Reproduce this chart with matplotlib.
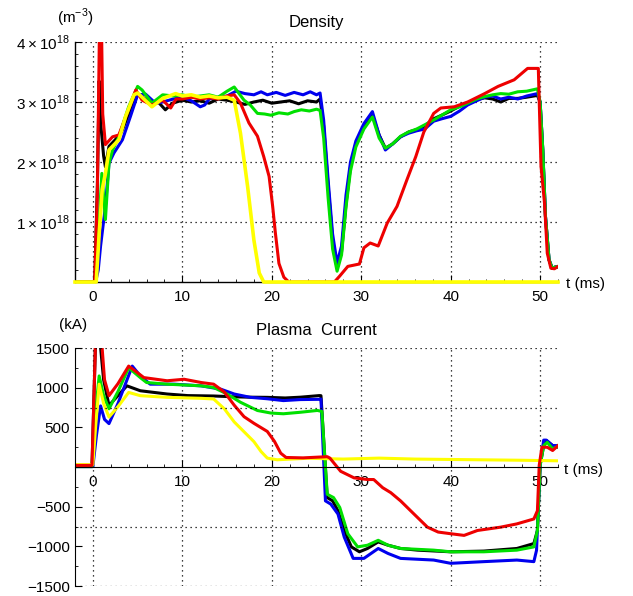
import numpy as np
import matplotlib
matplotlib.use("Agg")
import matplotlib.pyplot as plt
from matplotlib.ticker import MultipleLocator, FixedLocator

plt.rcParams['font.family'] = ['Liberation Sans', 'DejaVu Sans']
plt.rcParams['mathtext.fontset'] = 'custom'
plt.rcParams['mathtext.rm'] = 'Liberation Sans'

# ---------------- Density (1e18 m^-3) ----------------
den_black_t = [-2, 0.2, 0.5, 0.7, 0.9, 1.2, 1.4, 1.8, 2.5, 3.2, 4.2, 5.0, 5.6, 6.6, 7.3, 8.1, 8.9, 10, 11, 12, 13, 14, 15, 16, 17, 18, 19, 20, 21, 22, 23, 24, 25, 25.4,
               25.8, 26.3, 26.8, 27.3, 27.8, 28.3, 28.8, 29.4, 30.3, 31.25, 32.0, 32.7, 33.5, 34.4, 35.3, 36.2, 37.1, 38.1, 39.0, 40.0, 41.0, 41.9, 42.9, 43.8, 44.7, 45.6, 46.5, 47.5, 48.5, 49.7,
               50.0, 50.3, 50.6, 51.0, 51.35, 51.7, 52]
den_black = [0, 0, 1.6, 3.35, 2.6, 2.1, 1.92, 2.26, 2.37, 2.5, 2.87, 3.12, 3.08, 2.95, 3.0, 2.87, 2.98, 3.03, 3.0, 3.02, 2.98, 3.05, 3.03, 3.0, 2.96, 3.0, 3.03, 2.98, 3.0, 3.02, 2.97, 3.02, 3.0, 3.05,
             2.6, 1.6, 0.7, 0.23, 0.5, 1.3, 1.92, 2.3, 2.59, 2.78, 2.45, 2.23, 2.3, 2.42, 2.5, 2.54, 2.6, 2.72, 2.78, 2.85, 2.93, 2.98, 3.04, 3.07, 3.05, 3.0, 3.06, 3.06, 3.08, 3.11,
             3.0, 2.2, 1.09, 0.37, 0.23, 0.25, 0.25]

den_blue_t = [-2, 0.3, 0.6, 0.86, 1.4, 1.8, 2.35, 3.3, 4.2, 5.0, 5.9, 7.0, 7.8, 9, 10, 11, 12, 12.5, 13, 14, 15, 16, 17, 18, 18.8, 19.5, 20.5, 21.5, 22.5, 23.5, 24.3, 25.0, 25.4,
              25.8, 26.3, 26.8, 27.3, 27.8, 28.3, 28.8, 29.4, 30.3, 31.25, 32.0, 32.7, 33.5, 34.4, 35.3, 36.2, 37.1, 38.1, 39.0, 40.0, 41.0, 41.9, 42.9, 43.8, 44.7, 45.6, 46.5, 47.5, 48.5, 49.7,
              50.0, 50.3, 50.6, 51.0, 51.35, 51.7, 52]
den_blue = [0, 0, 0.2, 0.6, 1.26, 1.98, 2.15, 2.37, 2.76, 3.12, 3.13, 2.98, 3.0, 3.05, 3.08, 3.02, 2.92, 2.95, 3.05, 3.08, 3.1, 3.18, 3.14, 3.12, 3.17, 3.12, 3.16, 3.11, 3.16, 3.12, 3.17, 3.12, 3.15,
            2.7, 1.7, 0.8, 0.32, 0.6, 1.45, 2.0, 2.35, 2.64, 2.84, 2.45, 2.2, 2.3, 2.42, 2.48, 2.52, 2.55, 2.68, 2.72, 2.76, 2.85, 2.95, 3.02, 3.08, 3.1, 3.05, 3.08, 3.05, 3.1, 3.14,
            3.0, 2.2, 1.09, 0.37, 0.23, 0.25, 0.25]

den_green_t = [-2, 0.3, 0.67, 1.0, 1.4, 1.8, 2.2, 2.9, 4.0, 5.0, 5.5, 6.6, 7.8, 9, 10, 11, 12, 13, 14, 15, 15.8, 16.9, 17.6, 18.4, 19.2, 19.9, 20.8, 21.8, 22.5, 23.3, 24.2, 25.0, 25.4,
               25.8, 26.3, 26.8, 27.3, 27.8, 28.3, 28.8, 29.4, 30.3, 31.25, 32.0, 32.7, 33.5, 34.4, 35.3, 36.2, 37.1, 38.1, 39.0, 40.0, 41.0, 41.9, 42.9, 43.8, 44.7, 45.6, 46.5, 47.5, 48.5, 49.7,
               50.0, 50.3, 50.6, 51.0, 51.35, 51.7, 52]
den_green = [0, 0, 0.9, 1.81, 1.04, 1.98, 2.2, 2.42, 2.92, 3.26, 3.2, 2.98, 3.12, 3.1, 3.12, 3.08, 3.1, 3.12, 3.08, 3.18, 3.25, 3.03, 2.95, 2.81, 2.8, 2.78, 2.82, 2.8, 2.84, 2.87, 2.85, 2.88, 2.86,
             2.4, 1.4, 0.55, 0.18, 0.45, 1.25, 1.85, 2.25, 2.55, 2.75, 2.4, 2.23, 2.3, 2.43, 2.5, 2.55, 2.62, 2.7, 2.78, 2.87, 2.92, 2.98, 3.05, 3.09, 3.12, 3.14, 3.13, 3.17, 3.18, 3.22,
             3.0, 2.2, 1.09, 0.37, 0.23, 0.25, 0.25]

den_red_t = [-2, 0.2, 0.5, 0.75, 0.95, 1.1, 1.4, 2.2, 2.9, 3.8, 4.8, 5.5, 6.6, 7.8, 8.7, 9.3, 10, 11, 12, 13, 14, 15, 15.8, 16.5, 17.45, 18.4, 19.1, 19.7, 20.1, 20.4, 20.8, 21.35, 21.9,
             27.0, 27.6, 28.5, 29.8, 30.3, 31.0, 31.9, 32.9, 34.0, 35.1, 36.1, 37.0, 38.1, 38.9, 40.4, 41.9, 43.8, 45.3, 47.1, 48.6, 49.8,
             50.1, 50.5, 50.8, 51.2, 51.6, 52]
den_red = [0, 0, 1.5, 4.4, 4.4, 2.8, 2.29, 2.42, 2.45, 2.8, 3.2, 3.03, 2.95, 3.03, 2.9, 3.05, 3.05, 3.08, 3.05, 3.07, 3.05, 3.1, 3.12, 2.98, 2.65, 2.43, 2.09, 1.76, 1.26, 0.82, 0.31, 0.08, 0,
           0, 0.1, 0.26, 0.3, 0.57, 0.65, 0.6, 0.98, 1.26, 1.7, 2.09, 2.5, 2.81, 2.9, 2.92, 3.0, 3.14, 3.26, 3.37, 3.56, 3.56,
           1.93, 1.3, 0.48, 0.23, 0.22, 0.26]

den_yellow_t = [-2, 0.37, 0.7, 1.04, 1.4, 1.8, 2.9, 3.66, 4.6, 5.0, 5.5, 6.6, 7.8, 9.25, 10, 11, 12, 13, 14, 15, 15.8, 16.5, 17.3, 18.0, 18.6, 19.1, 52]
den_yellow = [0, 0, 0.8, 1.54, 1.81, 2.2, 2.37, 2.76, 3.12, 3.15, 3.08, 2.92, 3.06, 3.14, 3.1, 3.12, 3.08, 3.1, 3.07, 3.08, 3.03, 2.48, 1.59, 0.7, 0.15, 0, 0]

# ---------------- Plasma current (kA) ----------------
ip_black_t = [-2, -0.1, 0.3, 0.7, 1.2, 1.8, 2.8, 3.8, 5.3, 8.3, 10.6, 13.5, 15.8, 17.5, 19.5, 21.5, 23.2, 25.3, 25.5,
              26.2, 26.8, 27.4, 28.1, 28.9, 29.8, 30.7, 31.9, 33.0, 34.4, 36.3, 40.0, 43.7, 47.4, 49.3, 49.7, 50.0, 50.4, 50.7, 51.4, 52]
ip_black = [10, 10, 1600, 1700, 1100, 775, 900, 1023, 961, 920, 900, 895, 885, 880, 878, 870, 880, 900, 899,
            -385, -427, -551, -800, -1007, -1069, -1027, -944, -986, -1027, -1048, -1069, -1060, -1027, -965, -800, 21, 270, 332, 270, 250]

ip_blue_t = [-2, 0.0, 0.4, 0.86, 1.3, 1.8, 2.8, 4.4, 5.3, 6.4, 9.1, 12.1, 14.3, 15.8, 17.6, 19.5, 21.3, 23.2, 25.3, 25.5,
             26.0, 26.6, 27.4, 28.1, 29.1, 30.3, 31.9, 33.0, 34.4, 38.1, 40.0, 43.7, 47.4, 49.3, 49.6, 50.0, 50.4, 50.7, 51.4, 52]
ip_blue = [5, 5, 400, 770, 600, 547, 800, 1272, 1148, 1044, 1044, 1023, 981, 920, 878, 860, 837, 850, 853, 857,
           -427, -468, -593, -883, -1152, -1152, -1027, -1090, -1152, -1173, -1214, -1193, -1173, -1193, -1050, 21, 339, 339, 270, 270]

ip_green_t = [-2, -0.1, 0.3, 0.7, 1.2, 1.8, 2.8, 4.0, 5.3, 6.0, 8.3, 12.1, 13.5, 15.0, 16.5, 18.4, 19.9, 21.3, 23.2, 25.1, 25.6,
              26.2, 26.9, 27.6, 28.5, 29.6, 30.7, 31.9, 33.0, 34.4, 38.1, 40.0, 43.7, 47.4, 49.3, 49.7, 50.0, 50.4, 50.8, 51.4, 52]
ip_green = [5, 5, 700, 1148, 900, 733, 950, 1251, 1127, 1065, 1044, 1023, 1002, 920, 816, 712, 680, 671, 690, 713, 700,
            -344, -385, -510, -841, -1007, -986, -924, -986, -1027, -1048, -1069, -1069, -1048, -1007, -800, 21, 270, 311, 228, 260]

ip_red_t = [-2, -0.1, 0.3, 0.6, 0.9, 1.3, 1.8, 2.8, 4.0, 5.7, 8.3, 10.2, 12.1, 13.5, 14.7, 15.8, 16.9, 18.0, 19.5, 20.3, 21.0, 21.6, 23.5, 26.2,
            26.5, 27.7, 29.2, 30.7, 31.4, 32.4, 33.3, 34.4, 35.9, 37.4, 38.6, 40.0, 41.5, 43.0, 45.6, 47.4, 49.3, 49.7, 49.9, 50.2, 50.8, 51.4, 52]
ip_red = [20, 20, 1600, 2000, 1700, 1100, 899, 1050, 1272, 1127, 1087, 1106, 1065, 1044, 944, 779, 634, 551, 448, 323, 174, 120, 115, 130,
          112, -54, -137, -158, -158, -261, -323, -427, -593, -758, -820, -841, -862, -800, -758, -717, -655, -551, 21, 249, 249, 208, 270]

ip_yellow_t = [-2, 0.0, 0.3, 0.7, 1.2, 1.8, 2.8, 4.0, 5.3, 8.3, 12.1, 13.5, 14.7, 15.8, 16.9, 18.0, 18.8, 19.5, 20.6, 24, 28, 32, 36, 40, 44, 48, 52]
ip_yellow = [30, 30, 500, 1044, 800, 630, 760, 940, 899, 878, 866, 857, 733, 568, 444, 320, 195, 112, 91, 110, 100, 112, 100, 95, 90, 85, 78]

colors = {'black': 'black', 'blue': '#0000ee', 'green': '#00e000', 'red': '#ee0000', 'yellow': '#ffff00'}
den_series = [('black', den_black_t, den_black), ('blue', den_blue_t, den_blue), ('green', den_green_t, den_green),
              ('red', den_red_t, den_red), ('yellow', den_yellow_t, den_yellow)]
ip_series = [('black', ip_black_t, ip_black), ('blue', ip_blue_t, ip_blue), ('green', ip_green_t, ip_green),
             ('yellow', ip_yellow_t, ip_yellow), ('red', ip_red_t, ip_red)]

x_ticks = [0, 10, 20, 30, 40, 50]
den_ticks = [1, 2, 3, 4]
den_labels = [r'$1\times10^{18}$', r'$2\times10^{18}$', r'$3\times10^{18}$', r'$4\times10^{18}$']
ip_ticks = [-1500, -1000, -500, 500, 1000, 1500]
ip_labels = ['\u22121500', '\u22121000', '\u2212500', '500', '1000', '1500']

W, H = 633, 596
fig = plt.figure(figsize=(W / 100, H / 100), dpi=100)

def box(l, t, r, b):
    return [l / W, 1 - b / H, (r - l) / W, (b - t) / H]

grid_kw = dict(color='black', lw=0.9, ls=(0, (1, 3)))
LW = 2.2

# ---- top panel
ax1 = fig.add_axes(box(75, 42, 558, 282))
for name, t, v in den_series:
    if name == 'yellow':
        ax1.plot(t, v, color=colors[name], lw=LW + 0.4, clip_on=False, zorder=3)
    else:
        ax1.plot(t, v, color=colors[name], lw=LW)
ax1.set_xlim(-2, 52)
ax1.set_ylim(0, 4)
for s in ['top', 'right']:
    ax1.spines[s].set_visible(False)
ax1.spines['left'].set_linewidth(1.0)
ax1.spines['bottom'].set_linewidth(1.0)
ax1.set_xticks(x_ticks)
ax1.set_yticks(den_ticks)
ax1.set_yticklabels(den_labels, fontsize=11)
ax1.xaxis.set_minor_locator(MultipleLocator(2))
ax1.yaxis.set_minor_locator(MultipleLocator(0.2))
ax1.tick_params(axis='both', which='both', direction='in', labelsize=11)
ax1.tick_params(which='major', length=5)
ax1.tick_params(which='minor', length=2.5)
ax1.tick_params(axis='x', pad=6)
ax1.grid(True, which='major', **grid_kw)
fig.text(75 / W, 1 - 18 / H, r'(m$^{-3}$)', fontsize=11, ha='center', va='center')
fig.text(316 / W, 1 - 23 / H, 'Density', fontsize=12, ha='center', va='center')
fig.text(585 / W, 1 - 284 / H, 't (ms)', fontsize=11, ha='center', va='center')

# ---- bottom panel
ax2 = fig.add_axes(box(75, 348, 558, 586))
for name, t, v in ip_series:
    ax2.plot(t, v, color=colors[name], lw=LW)
ax2.set_xlim(-2, 52)
ax2.set_ylim(-1500, 1500)
for s in ['top', 'right']:
    ax2.spines[s].set_visible(False)
ax2.spines['bottom'].set_position(('data', 0))
ax2.set_xticks(x_ticks)
ax2.set_yticks(ip_ticks)
ax2.set_yticklabels(ip_labels, fontsize=11)
ax2.xaxis.set_minor_locator(MultipleLocator(2))
ax2.yaxis.set_minor_locator(MultipleLocator(250))
ax2.tick_params(axis='both', which='both', direction='in', labelsize=11)
ax2.tick_params(which='major', length=5)
ax2.tick_params(which='minor', length=2.5)
ax2.tick_params(axis='x', pad=6)
ax2.grid(True, which='major', axis='x', **grid_kw)
for yv in [-1500, -750, 750, 1500]:
    ax2.axhline(yv, **grid_kw)
fig.text(73 / W, 1 - 325 / H, '(kA)', fontsize=11, ha='center', va='center')
fig.text(316 / W, 1 - 331 / H, 'Plasma  Current', fontsize=12, ha='center', va='center')
fig.text(584 / W, 1 - 470 / H, 't (ms)', fontsize=11, ha='center', va='center')

fig.savefig('out.png', dpi=100)
